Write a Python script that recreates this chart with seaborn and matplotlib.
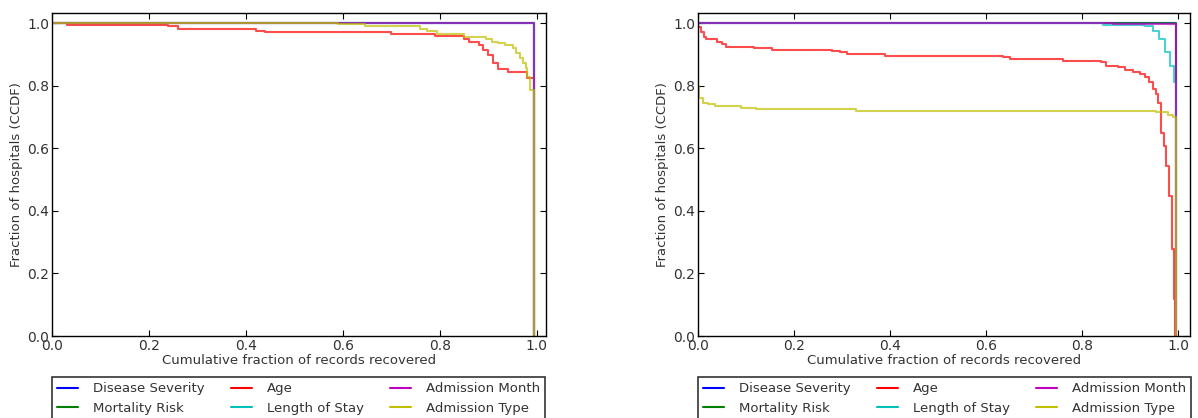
import numpy as np
import pandas as pd
import seaborn as sns
import matplotlib
matplotlib.use('Agg')
import matplotlib.pyplot as plt

# legend order (column-wise, 3 columns)
features = ['Disease Severity', 'Mortality Risk', 'Age',
            'Length of Stay', 'Admission Month', 'Admission Type']
colors = {'Disease Severity': (0, 0, 1), 'Mortality Risk': (0, 0.5, 0),
          'Age': (1, 0, 0), 'Length of Stay': (0, 0.75, 0.75),
          'Admission Month': (0.75, 0, 0.75), 'Admission Type': (0.75, 0.75, 0)}

# step breakpoints (x = cumulative fraction of records, y = CCDF)
# ---- left panel
l_sev_x = [0.0, 0.995, 0.995]
l_sev_y = [1.0, 1.0, 0.0]
l_mort_x = [0.0, 0.995, 0.995]
l_mort_y = [1.0, 1.0, 0.0]
l_age_x = [0.0, 0.03, 0.24, 0.26, 0.42, 0.44, 0.70, 0.79, 0.85, 0.86, 0.88, 0.89,
           0.90, 0.91, 0.92, 0.94, 0.98, 0.995]
l_age_y = [1.0, 0.995, 0.99, 0.98, 0.975, 0.97, 0.965, 0.958, 0.95, 0.94, 0.93, 0.914,
           0.898, 0.871, 0.853, 0.842, 0.823, 0.0]
l_stay_x = [0.0, 0.995, 0.995]
l_stay_y = [1.0, 1.0, 0.0]
l_month_x = [0.0, 0.995, 0.995]
l_month_y = [1.0, 1.0, 0.0]
l_type_x = [0.0, 0.59, 0.645, 0.76, 0.773, 0.795, 0.85, 0.896, 0.908, 0.92, 0.935,
            0.95, 0.958, 0.965, 0.972, 0.977, 0.98, 0.985, 0.995]
l_type_y = [1.0, 0.997, 0.99, 0.98, 0.973, 0.965, 0.955, 0.95, 0.94, 0.935, 0.93,
            0.92, 0.904, 0.888, 0.871, 0.855, 0.828, 0.786, 0.0]

# ---- right panel
r_sev_x = [0.0, 0.995, 0.995]
r_sev_y = [1.0, 1.0, 0.0]
r_mort_x = [0.0, 0.995, 0.995]
r_mort_y = [1.0, 1.0, 0.0]
r_age_x = [0.0, 0.006, 0.013, 0.017, 0.04, 0.05, 0.058, 0.117, 0.154, 0.28, 0.295,
           0.31, 0.39, 0.636, 0.65, 0.76, 0.84, 0.85, 0.876, 0.89, 0.906, 0.92,
           0.932, 0.94, 0.947, 0.954, 0.958, 0.965, 0.97, 0.976, 0.982, 0.987,
           0.991, 0.993]
r_age_y = [0.986, 0.97, 0.954, 0.949, 0.94, 0.933, 0.924, 0.919, 0.915, 0.911, 0.906,
           0.90, 0.895, 0.89, 0.884, 0.879, 0.874, 0.863, 0.858, 0.85, 0.844, 0.836,
           0.826, 0.81, 0.788, 0.772, 0.745, 0.65, 0.606, 0.543, 0.447, 0.278,
           0.118, 0.0]
r_stay_x = [0.0, 0.843, 0.932, 0.947, 0.961, 0.973, 0.984, 0.991, 0.995]
r_stay_y = [1.0, 0.995, 0.99, 0.975, 0.949, 0.906, 0.863, 0.81, 0.0]
r_month_x = [0.0, 0.865, 0.995, 0.995]
r_month_y = [1.0, 0.996, 0.70, 0.0]
r_type_x = [0.0, 0.002, 0.01, 0.02, 0.035, 0.09, 0.12, 0.33, 0.955, 0.98, 0.99, 0.995]
r_type_y = [0.80, 0.76, 0.745, 0.74, 0.735, 0.73, 0.725, 0.72, 0.715, 0.705, 0.70, 0.0]

left = {'Disease Severity': (l_sev_x, l_sev_y), 'Mortality Risk': (l_mort_x, l_mort_y),
        'Age': (l_age_x, l_age_y), 'Length of Stay': (l_stay_x, l_stay_y),
        'Admission Month': (l_month_x, l_month_y), 'Admission Type': (l_type_x, l_type_y)}
right = {'Disease Severity': (r_sev_x, r_sev_y), 'Mortality Risk': (r_mort_x, r_mort_y),
         'Age': (r_age_x, r_age_y), 'Length of Stay': (r_stay_x, r_stay_y),
         'Admission Month': (r_month_x, r_month_y), 'Admission Type': (r_type_x, r_type_y)}


def to_frame(series):
  rows = []
  for name in features:
    xs, ys = series[name]
    for i, (x, y) in enumerate(zip(xs, ys)):
      rows.append({'feature': name, 'x': x, 'y': y, 'order': i})
  return pd.DataFrame(rows)


sns.set_style('ticks', {'xtick.direction': 'in', 'ytick.direction': 'in',
                        'axes.edgecolor': 'black', 'xtick.top': True,
                        'ytick.right': True})
plt.rcParams['font.family'] = ['DejaVu Sans']
plt.rcParams['axes.linewidth'] = 1.0
plt.rcParams['xtick.major.size'] = 4
plt.rcParams['ytick.major.size'] = 4

fig = plt.figure(figsize=(11.98, 4.18), dpi=100)
ax1 = fig.add_axes([52/1198, 82/418, 494/1198, 323/418])
ax2 = fig.add_axes([698/1198, 82/418, 492/1198, 323/418])

for ax, series, xmax in [(ax1, left, 1.019), (ax2, right, 1.025)]:
  df = to_frame(series)
  sns.lineplot(data=df, x='x', y='y', hue='feature', hue_order=features,
               palette=colors, sort=False, estimator=None, units='feature',
               drawstyle='steps-post', linewidth=1.5, alpha=0.7, ax=ax)
  ax.set_xlim(0, xmax)
  ax.set_ylim(0, 1.032)
  ax.set_xticks([0.0, 0.2, 0.4, 0.6, 0.8, 1.0])
  ax.set_yticks([0.0, 0.2, 0.4, 0.6, 0.8, 1.0])
  ax.set_xticklabels(['0.0', '0.2', '0.4', '0.6', '0.8', '1.0'])
  ax.set_yticklabels(['0.0', '0.2', '0.4', '0.6', '0.8', '1.0'])
  ax.tick_params(labelsize=10, pad=2, colors='black', labelcolor='#333333',
                 top=True, right=True)
  ax.set_xlabel('Cumulative fraction of records recovered', fontsize=9.5,
                labelpad=1, color='#333333')
  ax.set_ylabel('Fraction of hospitals (CCDF)', fontsize=9.5, labelpad=3,
                color='#333333')
  handles, labels = ax.get_legend_handles_labels()
  for h in handles:
    h.set_alpha(1.0)
  leg = ax.legend(handles, labels, loc='upper left', bbox_to_anchor=(0, -0.127),
                  ncol=3, fontsize=9.5, frameon=True, fancybox=False,
                  edgecolor='black', handlelength=1.6, handletextpad=1.1,
                  columnspacing=2.0, borderaxespad=0, labelcolor='#333333')
  leg.get_frame().set_linewidth(1.2)

plt.savefig('out.png', dpi=100)
plt.close()
